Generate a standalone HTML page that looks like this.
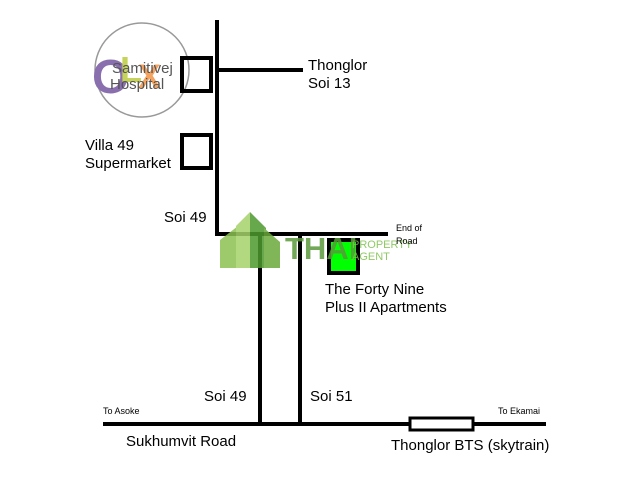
<!DOCTYPE html>
<html><head><style>
html,body{margin:0;padding:0;background:#fff}
svg{display:block}
text{font-family:"Liberation Sans",Arial,sans-serif;fill:#000}
</style></head><body>
<svg width="640" height="480" viewBox="0 0 640 480" xmlns="http://www.w3.org/2000/svg">
<rect width="640" height="480" fill="#fff"/>
<circle cx="142" cy="70" r="47" fill="#fff" stroke="#999" stroke-width="1.5"/>
<text x="92" y="93" font-size="48" font-weight="bold" style="fill:#8a6fae">O</text>
<text x="120" y="82" font-size="36" font-weight="bold" style="fill:#c5d35a">L</text>
<text x="138" y="88" font-size="34" font-weight="bold" style="fill:#f4a460">X</text>
<text x="112" y="73" font-size="15" style="fill:#555">Samitivej</text>
<text x="110" y="89" font-size="15" style="fill:#555">Hospital</text>
<line x1="217" y1="20" x2="217" y2="236" stroke="#000" stroke-width="4"/>
<line x1="217" y1="70" x2="303" y2="70" stroke="#000" stroke-width="4"/>
<rect x="182" y="58" width="29" height="33" fill="none" stroke="#000" stroke-width="4"/>
<rect x="182" y="135" width="29" height="33" fill="none" stroke="#000" stroke-width="4"/>
<line x1="215" y1="234" x2="388" y2="234" stroke="#000" stroke-width="4"/>
<line x1="260" y1="234" x2="260" y2="425" stroke="#000" stroke-width="4"/>
<line x1="300" y1="234" x2="300" y2="425" stroke="#000" stroke-width="4"/>
<line x1="103" y1="424" x2="546" y2="424" stroke="#000" stroke-width="4"/>
<rect x="410" y="418" width="63" height="12" fill="#fff" stroke="#000" stroke-width="3"/>
<rect x="329" y="240" width="29" height="33" fill="#00ff00" stroke="#000" stroke-width="4"/>
<g opacity="0.85">
<polygon points="220,240 238,226 238,268 220,268" fill="#8cc152"/>
<polygon points="236,226 250,212 250,268 236,268" fill="#a6d36a"/>
<polygon points="250,212 266,228 266,268 250,268" fill="#4e9a2e"/>
<polygon points="264,228 280,242 280,268 264,268" fill="#6aaa3a"/>
<text x="285" y="259" font-size="31" font-weight="bold" font-family="Liberation Serif" style="fill:#5b9a3c">THAI</text>
<text x="352" y="248" font-size="11" style="fill:#7cc04a">PROPERTY</text>
<text x="352" y="260" font-size="11" style="fill:#7cc04a">AGENT</text>
</g>
<text x="308" y="70" font-size="15">Thonglor</text>
<text x="308" y="88" font-size="15">Soi 13</text>
<text x="85" y="150" font-size="15">Villa 49</text>
<text x="85" y="168" font-size="15">Supermarket</text>
<text x="164" y="222" font-size="15">Soi 49</text>
<text x="396" y="231" font-size="9">End of</text>
<text x="396" y="244" font-size="9">Road</text>
<text x="325" y="294" font-size="15">The Forty Nine</text>
<text x="325" y="312" font-size="15">Plus II Apartments</text>
<text x="204" y="401" font-size="15">Soi 49</text>
<text x="310" y="401" font-size="15">Soi 51</text>
<text x="103" y="414" font-size="9">To Asoke</text>
<text x="498" y="414" font-size="9">To Ekamai</text>
<text x="126" y="446" font-size="15">Sukhumvit Road</text>
<text x="391" y="450" font-size="15">Thonglor BTS (skytrain)</text>
</svg>
</body></html>
